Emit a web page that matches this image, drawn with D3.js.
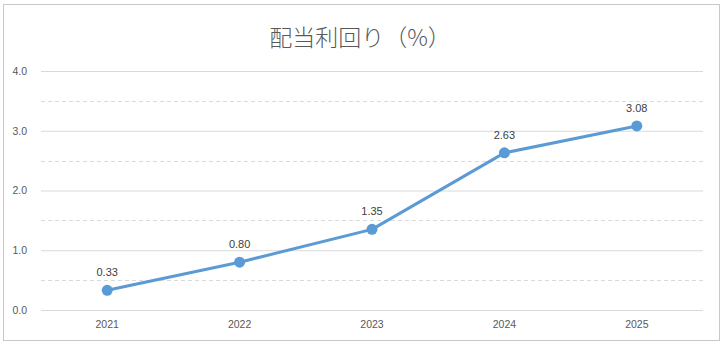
<!DOCTYPE html>
<html>
<head>
<meta charset="utf-8">
<script src="https://cdn.jsdelivr.net/npm/d3@7"></script>
<style>
  html, body { margin: 0; padding: 0; background: #fff; }
  svg { display: block; }
</style>
</head>
<body>
<svg id="chart" width="725" height="348"></svg>
<script>
// Dividend yield by fiscal year
const years = ["2021", "2022", "2023", "2024", "2025"];
const yields = [0.33, 0.80, 1.35, 2.63, 3.08];
const majorTicks = [0, 1, 2, 3, 4];
const minorTicks = [0.5, 1.5, 2.5, 3.5];
const title = "配当利回り（%）";

const svg = d3.select("#chart");
const plot = { left: 41, right: 703, top: 71, bottom: 310 };
const fontFamily = "'Liberation Sans', Arial, sans-serif";

// Outer frame
svg.append("rect")
  .attr("x", 3.5).attr("y", 4.5)
  .attr("width", 716).attr("height", 336)
  .attr("fill", "#fff")
  .attr("stroke", "#c8c8c8").attr("stroke-width", 1);

const x = d3.scaleBand().domain(years).range([plot.left, plot.right]);
const y = d3.scaleLinear().domain([0, 4]).range([plot.bottom, plot.top]);

// Minor dashed gridlines
svg.append("g").selectAll("line").data(minorTicks).join("line")
  .attr("x1", plot.left).attr("x2", plot.right)
  .attr("y1", d => Math.round(y(d)) + 0.5).attr("y2", d => Math.round(y(d)) + 0.5)
  .attr("stroke", "#d9d9d9").attr("stroke-dasharray", "4,3");

// Major gridlines with labels
const yAxis = d3.axisLeft(y).tickValues(majorTicks)
  .tickFormat(d3.format(".1f"))
  .tickSize(-(plot.right - plot.left)).tickPadding(14);
const gy = svg.append("g")
  .attr("transform", `translate(${plot.left},0)`)
  .call(yAxis);
gy.select(".domain").remove();
gy.selectAll(".tick line").attr("stroke", "#d9d9d9");
gy.selectAll(".tick text")
  .attr("fill", "#595959").attr("font-size", 10.5).attr("font-family", fontFamily);

// Category labels
const xAxis = d3.axisBottom(x).tickSize(0).tickPadding(11);
const gx = svg.append("g")
  .attr("transform", `translate(0,${plot.bottom})`)
  .call(xAxis);
gx.select(".domain").remove();
gx.selectAll(".tick text")
  .attr("fill", "#595959").attr("font-size", 10.5).attr("font-family", fontFamily);

// Line and markers
const cx = d => x(d) + x.bandwidth() / 2;
const pts = years.map((yr, i) => ({ yr, v: yields[i] }));

svg.append("path")
  .datum(pts)
  .attr("fill", "none")
  .attr("stroke", "#5b9bd5").attr("stroke-width", 3)
  .attr("stroke-linejoin", "round").attr("stroke-linecap", "round")
  .attr("d", d3.line().x(d => cx(d.yr)).y(d => y(d.v)));

svg.append("g").selectAll("circle").data(pts).join("circle")
  .attr("cx", d => cx(d.yr)).attr("cy", d => y(d.v))
  .attr("r", 5.5).attr("fill", "#5b9bd5");

// Value labels
svg.append("g").selectAll("text").data(pts).join("text")
  .attr("x", d => cx(d.yr)).attr("y", d => y(d.v) - 14)
  .attr("text-anchor", "middle")
  .attr("fill", "#404040").attr("font-size", 11).attr("font-family", fontFamily)
  .text(d => d.v.toFixed(2));

// Title
svg.append("text")
  .attr("x", 360).attr("y", 46)
  .attr("text-anchor", "middle")
  .attr("fill", "#595959").attr("font-size", 23)
  .attr("font-family", "'Noto Sans CJK JP', sans-serif")
  .attr("font-weight", 300)
  .text(title);
</script>
</body>
</html>
